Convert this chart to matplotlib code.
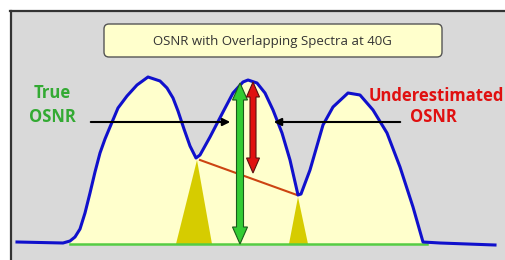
import matplotlib.pyplot as plt
from matplotlib.patches import Rectangle, FancyBboxPatch, Polygon

# spectrum trace (x = frequency, y = screen level, 0 at top)
freq = [17, 40, 63, 70, 75, 80, 85, 90, 95, 100, 105, 110, 118, 127, 137, 148,
        160, 167, 173, 178, 184, 190, 196, 200, 210, 223, 233, 243, 248, 257, 265,
        273, 282, 290, 298, 301, 310, 323, 333, 348, 360, 373, 387, 400, 413,
        423, 440, 495]
level = [242, 242.5, 243, 241, 237, 229, 213, 193, 172, 153, 139, 127, 108, 96,
         85, 77, 81, 88, 98, 111, 129, 146, 158, 155, 137, 112, 93, 82, 80, 83, 93,
         110, 133, 160, 195, 194, 170, 125, 107, 93, 95, 110, 133, 167, 207,
         242, 243, 245]

# noise floor and interpolated noise line
floor_x = [70, 427]
floor_level = 244
valley_x = [200, 297]
valley_level = [160, 195]

# noise triangles under the two valleys: (apex x, apex level, base left, base right)
noise_left = [197, 160, 176, 212]
noise_right = [298, 197, 289, 308]

# OSNR arrows
true_osnr = [240, 83, 244]     # x, top, bottom
under_osnr = [253, 82, 173]
left_pointer = [88, 233, 122]  # from x, to x, level
right_pointer = [403, 271, 122]

title = "OSNR with Overlapping Spectra at 40G"


def double_arrow(ax, x, top, bottom, shaft, head_w, head_len, fc, ec):
    pts = [(x, top), (x + head_w / 2, top + head_len), (x + shaft / 2, top + head_len),
           (x + shaft / 2, bottom - head_len), (x + head_w / 2, bottom - head_len),
           (x, bottom), (x - head_w / 2, bottom - head_len), (x - shaft / 2, bottom - head_len),
           (x - shaft / 2, top + head_len), (x - head_w / 2, top + head_len)]
    ax.add_patch(Polygon(pts, closed=True, fc=fc, ec=ec, lw=0.8, zorder=6))


fig = plt.figure(figsize=(5.06, 2.6), dpi=100)
ax = fig.add_axes([0, 0, 1, 1])
ax.set_xlim(0, 506)
ax.set_ylim(260, 0)
ax.axis("off")

# grey panel with dark top/left border
ax.add_patch(Rectangle((11, 11), 500, 260, fc="#d9d9d9", ec="none", zorder=0))
ax.plot([11, 11], [260, 10.5], color="#333333", lw=1.6, zorder=1)
ax.plot([10.5, 506], [11, 11], color="#333333", lw=1.6, zorder=1)

# title box
ax.add_patch(FancyBboxPatch((106, 26), 334, 29, boxstyle="round,pad=2,rounding_size=5",
                            fc="#ffffcc", ec="#555555", lw=1.0, zorder=2))
ax.text(272, 41.5, title, ha="center", va="center", fontsize=9.5,
        family="Open Sans", color="#333333", zorder=3)

# filled spectrum
ax.fill_between(freq, level, floor_level, where=[floor_x[0] <= f <= floor_x[1] for f in freq],
                color="#ffffcc", lw=0, zorder=1)
ax.fill([noise_left[2], noise_left[0], noise_left[3]],
        [floor_level, noise_left[1], floor_level], color="#d6cc00", lw=0, zorder=2)
ax.fill([noise_right[2], noise_right[0], noise_right[3]],
        [floor_level, noise_right[1], floor_level], color="#d6cc00", lw=0, zorder=2)
ax.plot(floor_x, [floor_level, floor_level], color="#55cc44", lw=1.8, zorder=3)
ax.plot(valley_x, valley_level, color="#cc4411", lw=1.5, zorder=3)
ax.plot(freq, level, color="#1010cc", lw=2.2, zorder=4, solid_joinstyle="round")

# pointers from the labels
ax.annotate("", xy=(left_pointer[1], left_pointer[2]), xytext=(left_pointer[0], left_pointer[2]),
            arrowprops=dict(arrowstyle="-|>", lw=1.5, color="black", mutation_scale=11), zorder=5)
ax.annotate("", xy=(right_pointer[1], right_pointer[2]), xytext=(right_pointer[0], right_pointer[2]),
            arrowprops=dict(arrowstyle="-|>", lw=1.5, color="black", mutation_scale=11), zorder=5)

double_arrow(ax, true_osnr[0], true_osnr[1], true_osnr[2], 7, 15, 17, "#33cc33", "#1a5a1a")
double_arrow(ax, under_osnr[0], under_osnr[1], under_osnr[2], 6, 13, 15, "#e01010", "#5a1010")

lab = dict(fontsize=12, fontweight="bold", family="Open Sans", ha="center", va="center", zorder=6)
ax.text(52, 93, "True", color="#33aa33", **lab)
ax.text(52, 117, "OSNR", color="#33aa33", **lab)
ax.text(436, 96, "Underestimated", color="#e01010", **lab)
ax.text(433, 117, "OSNR", color="#e01010", **lab)

fig.savefig("out.png", dpi=100)
